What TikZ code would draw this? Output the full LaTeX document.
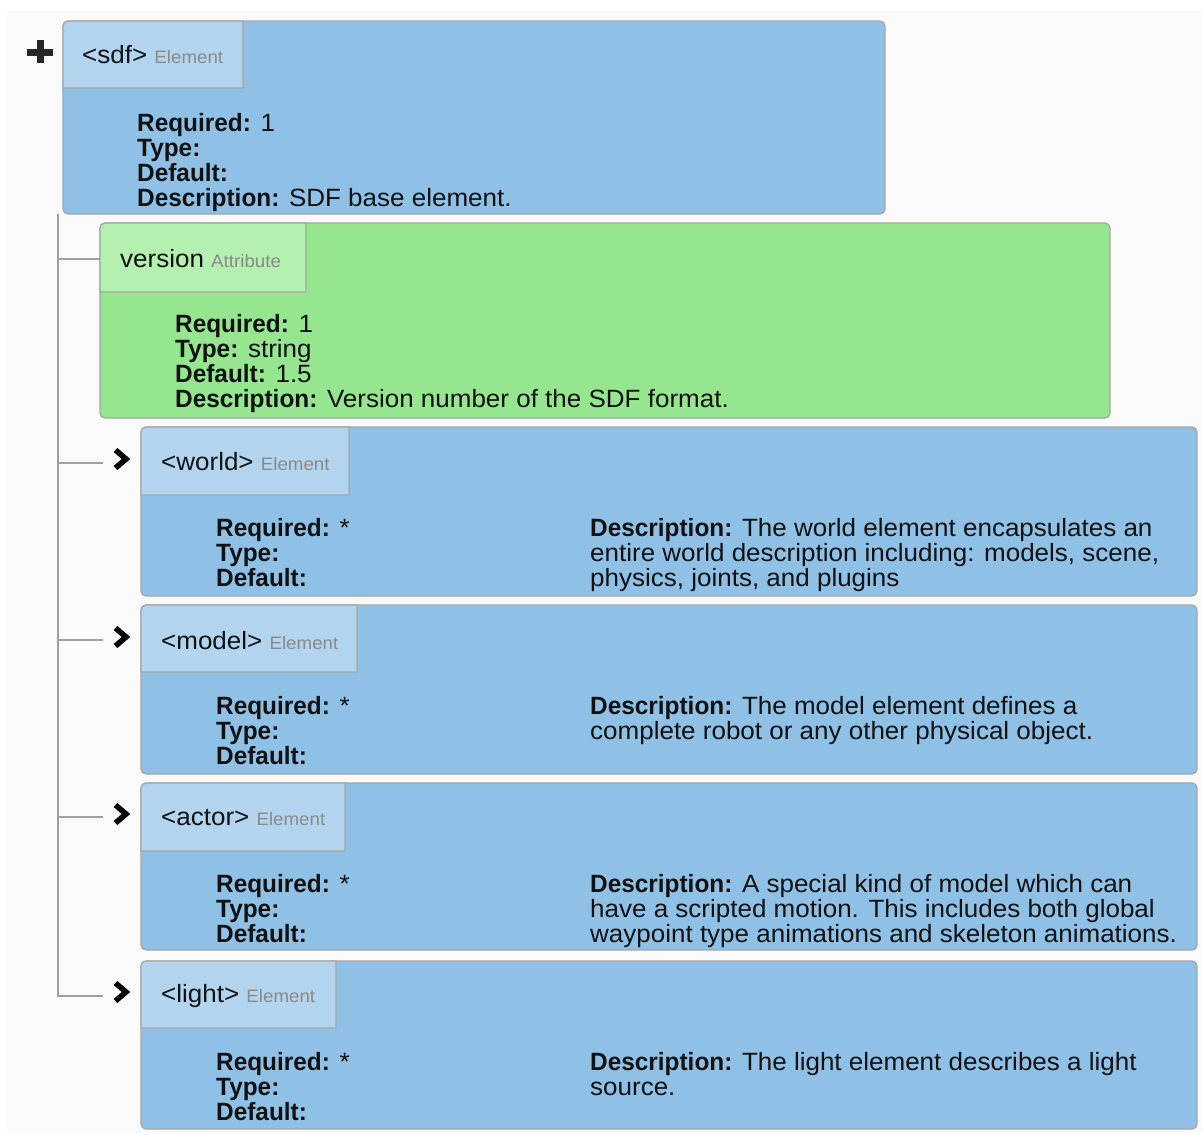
\documentclass[tikz,border=0pt]{standalone}
\usepackage{fontspec}
\setmainfont{Liberation Sans}[FakeStretch=1.04, BoldFeatures={FakeStretch=0.975}]
\usetikzlibrary{calc}
\definecolor{bg}{HTML}{FAFAFA}
\definecolor{blbody}{HTML}{8FC1E6}
\definecolor{bltab}{HTML}{B2D4EF}
\definecolor{grbody}{HTML}{95E68F}
\definecolor{grtab}{HTML}{B4F0AF}
\definecolor{edgegray}{HTML}{A6A6A6}
\definecolor{treegray}{HTML}{A0A0A0}
\definecolor{subgray}{HTML}{8A8A8A}
\definecolor{ink}{HTML}{111111}
\tikzset{
  x=1pt, y=-1pt,
  box/.style={draw=edgegray, line width=1.3pt, rounded corners=5pt, anchor=north west, inner sep=0pt, outer sep=0pt},
  bluebox/.style={box, fill=blbody},
  greenbox/.style={box, fill=grbody},
  tabedge/.style={draw=edgegray, line width=1.3pt},
  titletext/.style={anchor=base west, inner sep=0pt, font=\fontsize{25}{25}\selectfont, text=ink},
  bodytext/.style={anchor=base west, inner sep=0pt, align=left, font=\fontsize{25}{25}\selectfont, text=ink},
  tree/.style={draw=treegray, line width=1.3pt},
  chevron/.style={draw=black, line width=5.5pt, line join=miter},
}
\newcommand{\kindlabel}[1]{{\fontsize{18}{18}\selectfont\color{subgray}#1}}
\begin{document}
\begin{tikzpicture}
\useasboundingbox (0,0) rectangle (1203,1135);
\fill[white] (0,0) rectangle (1203,1135);
\fill[bg] (7,10) rectangle (1203,1133);

% plus sign
\fill[black!85] (27,48.5) rectangle (53,55.5);
\fill[black!85] (36.5,40) rectangle (43.5,63);

% ---------- sdf ----------
\node[bluebox, minimum width=822pt, minimum height=193pt] (sdfbox) at (63,21) {};
\draw[tabedge, fill=bltab] (63,88) -- (63,26) arc[start angle=180, end angle=270, radius=5] -- (243,21) -- (243,88) -- cycle;
\node[titletext] (sdftitle) at (82,63) {<sdf> \kindlabel{Element}};
\node[bodytext] (sdfbody) at (137,206) {\textbf{Required:} 1\\\textbf{Type:}\\\textbf{Default:}\\\textbf{Description:} SDF base element.};

% ---------- version ----------
\node[greenbox, minimum width=1010pt, minimum height=195pt] (versionbox) at (100,223) {};
\draw[tabedge, fill=grtab] (100,292) -- (100,228) arc[start angle=180, end angle=270, radius=5] -- (306,223) -- (306,292) -- cycle;
\node[titletext] (versiontitle) at (120,267) {version \kindlabel{Attribute}};
\node[bodytext] (versionbody) at (175,407) {\textbf{Required:} 1\\\textbf{Type:} string\\\textbf{Default:} 1.5\\\textbf{Description:} Version number of the SDF format.};

% ---------- world ----------
\node[bluebox, minimum width=1056pt, minimum height=169pt] (worldbox) at (141,427) {};
\draw[tabedge, fill=bltab] (141,495) -- (141,432) arc[start angle=180, end angle=270, radius=5] -- (349,427) -- (349,495) -- cycle;
\node[titletext] (worldtitle) at (161,470) {<world> \kindlabel{Element}};
\node[bodytext] (worldleft) at (216,586) {\textbf{Required:} *\\\textbf{Type:}\\\textbf{Default:}};
\node[bodytext] (worldright) at (590,586) {\textbf{Description:} The world element encapsulates an\\entire world description including: models, scene,\\physics, joints, and plugins};

% ---------- model ----------
\node[bluebox, minimum width=1056pt, minimum height=169pt] (modelbox) at (141,605) {};
\draw[tabedge, fill=bltab] (141,672) -- (141,610) arc[start angle=180, end angle=270, radius=5] -- (357,605) -- (357,672) -- cycle;
\node[titletext] (modeltitle) at (161,649) {<model> \kindlabel{Element}};
\node[bodytext] (modelleft) at (216,764) {\textbf{Required:} *\\\textbf{Type:}\\\textbf{Default:}};
\node[bodytext] (modelright) at (590,739) {\textbf{Description:} The model element defines a\\complete robot or any other physical object.};

% ---------- actor ----------
\node[bluebox, minimum width=1056pt, minimum height=167pt] (actorbox) at (141,783) {};
\draw[tabedge, fill=bltab] (141,851) -- (141,788) arc[start angle=180, end angle=270, radius=5] -- (345,783) -- (345,851) -- cycle;
\node[titletext] (actortitle) at (161,825) {<actor> \kindlabel{Element}};
\node[bodytext] (actorleft) at (216,942) {\textbf{Required:} *\\\textbf{Type:}\\\textbf{Default:}};
\node[bodytext] (actorright) at (590,942) {\textbf{Description:} A special kind of model which can\\have a scripted motion. This includes both global\\waypoint type animations and skeleton animations.};

% ---------- light ----------
\node[bluebox, minimum width=1056pt, minimum height=168pt] (lightbox) at (141,961) {};
\draw[tabedge, fill=bltab] (141,1028) -- (141,966) arc[start angle=180, end angle=270, radius=5] -- (336,961) -- (336,1028) -- cycle;
\node[titletext] (lighttitle) at (161,1002) {<light> \kindlabel{Element}};
\node[bodytext] (lightleft) at (216,1120) {\textbf{Required:} *\\\textbf{Type:}\\\textbf{Default:}};
\node[bodytext] (lightright) at (590,1095) {\textbf{Description:} The light element describes a light\\source.};

% ---------- tree connectors ----------
\coordinate (trunktop) at (58,214);
\coordinate (vstub) at (58,259);
\coordinate (wstub) at (58,463);
\coordinate (mstub) at (58,640);
\coordinate (astub) at (58,817);
\coordinate (lstub) at (58,996);
\coordinate (wend) at (103,463);
\coordinate (mend) at (103,640);
\coordinate (aend) at (103,817);
\coordinate (lend) at (103,996);
\draw[tree] (trunktop) -- (lstub) -- (lend);
\draw[tree] (vstub) -- (vstub -| versionbox.west);
\draw[tree] (wstub) -- (wend);
\draw[tree] (mstub) -- (mend);
\draw[tree] (astub) -- (aend);

% chevrons
\draw[chevron] (115.5,450) -- (126,459) -- (115.5,468);
\draw[chevron] (115.5,628) -- (126,637) -- (115.5,646);
\draw[chevron] (115.5,805) -- (126,814) -- (115.5,823);
\draw[chevron] (115.5,983) -- (126,992) -- (115.5,1001);
\end{tikzpicture}
\end{document}
